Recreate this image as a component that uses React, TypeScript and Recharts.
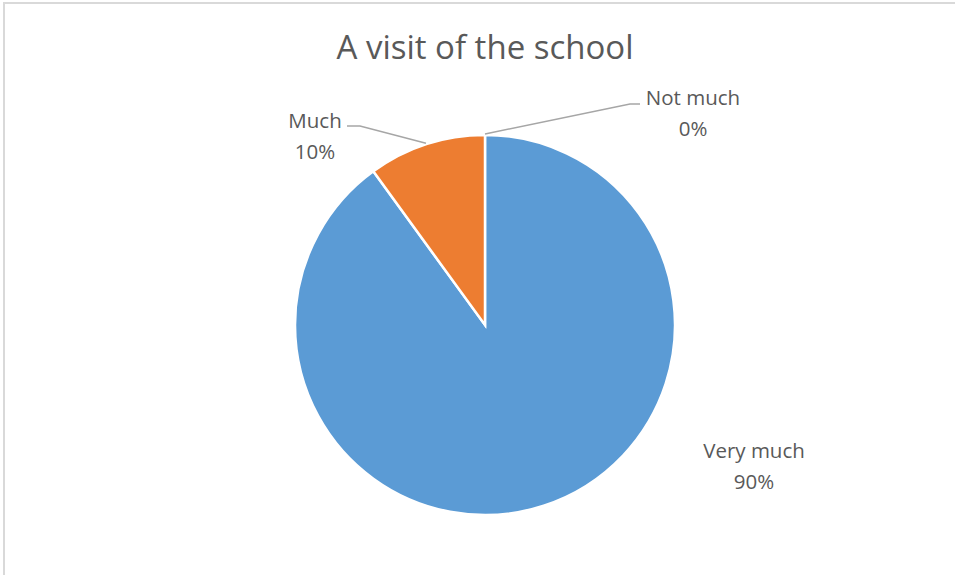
import React from 'react';
import { PieChart, Pie, Cell } from 'recharts';

const categories = ['Very much', 'Much', 'Not much'];
const shares = [90, 10, 0];
const COLORS = ['#5B9BD5', '#ED7D31', '#A5A5A5'];

const data = categories.map((name, i) => ({ name, value: shares[i] }));

const FONT = '"Open Sans", "Noto Sans", sans-serif';
const TEXT_COLOR = '#595959';
const LINE_COLOR = '#A6A6A6';

// label placement relative to the pie centre (Excel "best fit" look)
const labelLayout = [
  { dx: 269, dy: 125, line: null },
  { dx: -170, dy: -205, line: { elbow: [-125, -199], end: [-138, -199] } },
  { dx: 208, dy: -228, line: { elbow: [145, -221], end: [155, -221] } },
];

const renderLabel = ({ cx, cy, midAngle, outerRadius, index }: any) => {
  const RADIAN = Math.PI / 180;
  const layout = labelLayout[index];
  const entry = data[index];
  const sx = cx + (outerRadius + 1) * Math.cos(-midAngle * RADIAN);
  const sy = cy + (outerRadius + 1) * Math.sin(-midAngle * RADIAN);
  return (
    <g key={`lbl-${index}`}>
      {layout.line && (
        <polyline
          points={`${sx},${sy} ${cx + layout.line.elbow[0]},${cy + layout.line.elbow[1]} ${cx + layout.line.end[0]},${cy + layout.line.end[1]}`}
          fill="none"
          stroke={LINE_COLOR}
          strokeWidth={1.5}
        />
      )}
      <text
        x={cx + layout.dx}
        y={cy + layout.dy}
        textAnchor="middle"
        dominantBaseline="central"
        fill={TEXT_COLOR}
        fontFamily={FONT}
        fontSize={20.5}
      >
        <tspan x={cx + layout.dx} dy={0}>{entry.name}</tspan>
        <tspan x={cx + layout.dx} dy={31}>{`${entry.value}%`}</tspan>
      </text>
    </g>
  );
};

export default function App() {
  return (
    <div style={{ position: 'fixed', left: 0, top: 0, width: 955, height: 575, overflow: 'hidden', background: '#fff' }}>
      <div
        style={{
          position: 'absolute',
          left: 3,
          top: 2,
          width: 980,
          height: 600,
          border: '2px solid #D9D9D9',
        }}
      />
      <div
        style={{
          position: 'absolute',
          left: 0,
          top: 27,
          width: 970,
          textAlign: 'center',
          fontFamily: FONT,
          fontSize: 33,
          lineHeight: '40px',
          color: TEXT_COLOR,
        }}
      >
        A visit of the school
      </div>
      <div style={{ position: 'absolute', left: 0, top: 0 }}>
        <PieChart width={955} height={575} margin={{ top: 0, right: 0, bottom: 0, left: 0 }}>
          <Pie
            data={data}
            dataKey="value"
            nameKey="name"
            cx={485}
            cy={325}
            outerRadius={190}
            startAngle={90}
            endAngle={-270}
            stroke="#fff"
            strokeWidth={2.5}
            labelLine={false}
            label={renderLabel}
            isAnimationActive={false}
          >
            {data.map((entry, index) => (
              <Cell key={`cell-${index}`} fill={COLORS[index % COLORS.length]} />
            ))}
          </Pie>
        </PieChart>
      </div>
    </div>
  );
}
